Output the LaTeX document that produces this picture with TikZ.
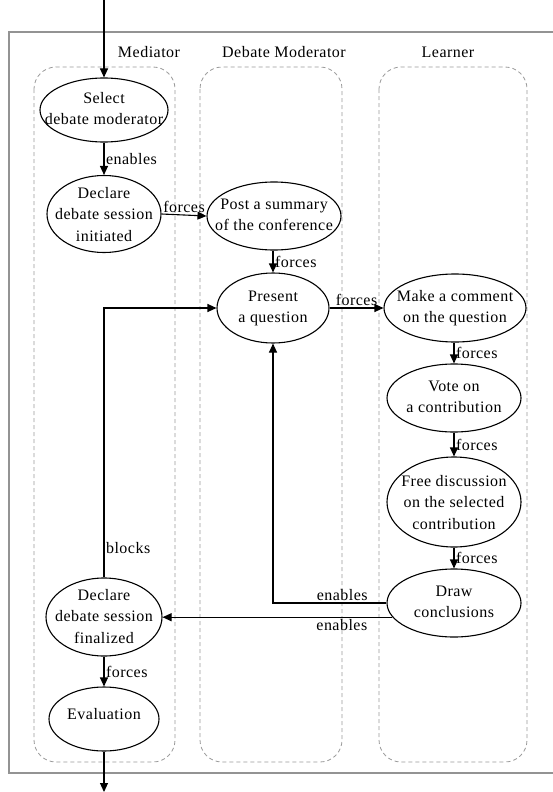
\documentclass[tikz,border=0pt]{standalone}
\usepackage{fontspec}
\setmainfont{Liberation Serif}[LetterSpace=3]
\usetikzlibrary{arrows.meta,shapes.geometric}
\newcommand{\ellt}[2][-4pt]{\smash{\raisebox{#1}{\makebox[0pt]{\begin{tabular}{@{}c@{}}#2\end{tabular}}}}}
\begin{document}
\begin{tikzpicture}[x=1pt,y=-1pt,
  every node/.style={font=\fontsize{16}{21.5}\selectfont},
  act/.style={ellipse,draw,line width=1.1pt,inner sep=0pt},
  lane/.style={draw=gray!80,dashed,dash pattern=on 4pt off 3pt,rounded corners=22pt,line width=0.8pt},
  frame/.style={draw=gray!85,line width=1.3pt},
  flow/.style={line width=1.1pt,-{Triangle[length=9pt,width=8pt]}},
  lbl/.style={inner sep=1.5pt}]
\useasboundingbox (0,0) rectangle (553,792);
% frame and lanes
\draw[frame] (9,32) rectangle (556,773);
\draw[lane] (34,67) rectangle (175,762);
\draw[lane] (200,67) rectangle (342,762);
\draw[lane] (379,67) rectangle (527,762);
\node (t1) at (149,52) {Mediator};
\node (t2) at (284,52) {Debate Moderator};
\node (t3) at (448,52) {Learner};
% nodes
\node[act,minimum width=128pt,minimum height=64pt] (sel) at (104,110) {\ellt{Select\\debate moderator}};
\node[act,minimum width=114pt,minimum height=77pt] (ini) at (104,214) {\ellt[-6pt]{Declare\\debate session\\initiated}};
\node[act,minimum width=134pt,minimum height=68pt] (post) at (274,216) {\ellt{Post a summary\\of the conference}};
\node[act,minimum width=112pt,minimum height=70pt] (pres) at (273,308) {\ellt{Present\\a question}};
\node[act,minimum width=142pt,minimum height=68pt] (make) at (455,308) {\ellt{Make a comment\\on the question}};
\node[act,minimum width=134pt,minimum height=68pt] (vote) at (454,398) {\ellt{Vote on\\a contribution}};
\node[act,minimum width=134pt,minimum height=90pt] (free) at (454,502) {\ellt[-6pt]{Free discussion\\on the selected\\contribution}};
\node[act,minimum width=134pt,minimum height=68pt] (draw) at (454,603) {\ellt{Draw\\conclusions}};
\node[act,minimum width=116pt,minimum height=78pt] (fin) at (104,617) {\ellt[-5pt]{Declare\\debate session\\finalized}};
\node[act,minimum width=110pt,minimum height=64pt] (eval) at (104,719) {\ellt[-1pt]{Evaluation}};
\coordinate (top) at (104,0);
\coordinate (bot) at (104,792);
% edges
\draw[flow] (top) -- (sel);
\draw[flow] (sel) -- node[lbl,right] {enables} (ini);
\draw[flow] (ini.east) -- node[lbl,above,pos=0.5] {forces} (post.west);
\draw[flow] (post.south -| pres) -- node[lbl,right] {forces} (pres.north);
\draw[flow] (pres.east) -- node[lbl,above,pos=0.5] {forces} (make.west);
\draw[flow] (make.south -| vote) -- node[lbl,right] {forces} (vote);
\draw[flow] (vote) -- node[lbl,right] {forces} (free);
\draw[flow] (free) -- node[lbl,right] {forces} (draw);
\draw[flow] (draw.west) -- node[lbl,above,pos=0.39] {enables} (draw.west -| pres) -- (pres.south);
\draw[flow] (draw.193) -- node[lbl,below,pos=0.22] {enables} (draw.193 -| fin.east);
\draw[flow] (fin.north) -- node[lbl,right,pos=0.11] {blocks} (fin.north |- pres) -- (pres.west);
\draw[flow] (fin) -- node[lbl,right] {forces} (eval);
\draw[flow] (eval) -- (bot);
\end{tikzpicture}
\end{document}
